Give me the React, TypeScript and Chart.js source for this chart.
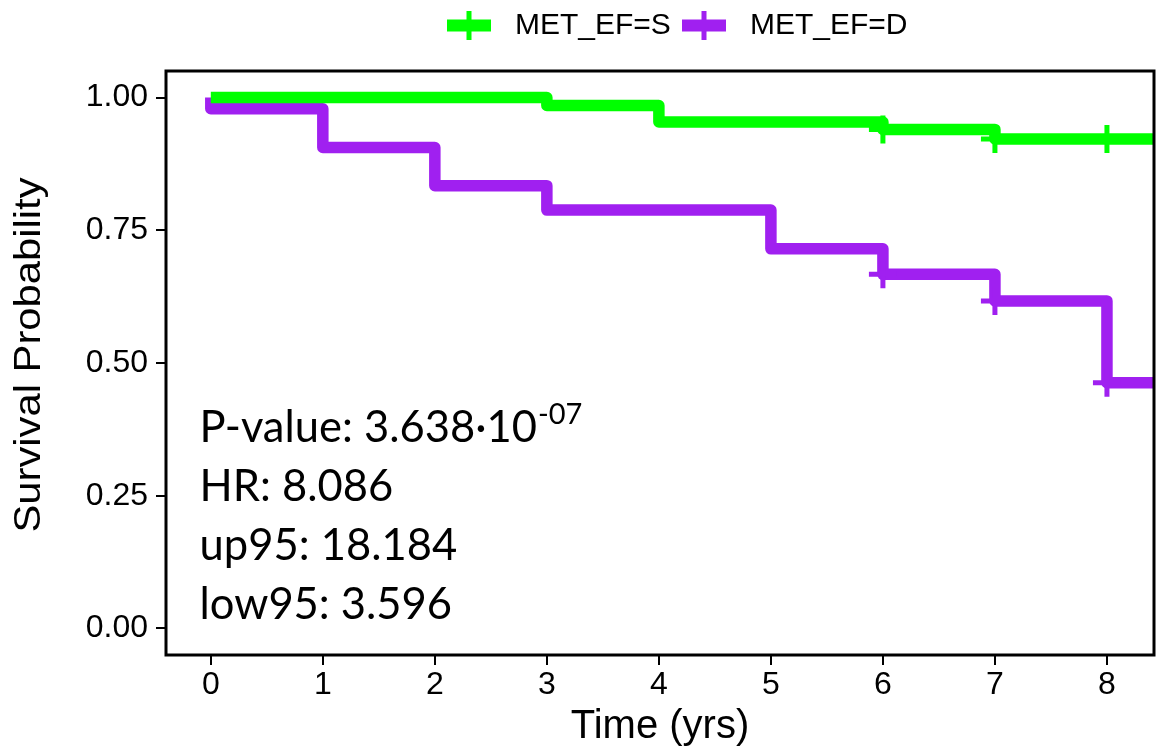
import React, { useEffect, useRef } from "react";
import { Chart, registerables } from "chart.js";

Chart.register(...registerables);

// ---- data ----
const seriesNames = ["MET_EF=S", "MET_EF=D"];
const seriesColors = ["#00FF00", "#A020F0"];

const greenTimes = [0, 3, 4, 6, 7, 8.42];
const greenSurv = [1.0, 0.985, 0.954, 0.94, 0.922, 0.922];

const purpleTimes = [0, 0, 1, 2, 3, 5, 6, 7, 8, 8.42];
const purpleSurv = [1.0, 0.979, 0.906, 0.834, 0.788, 0.715, 0.667, 0.617, 0.463, 0.463];

const greenCensorTimes = [6, 7, 8];
const greenCensorSurv = [0.94, 0.922, 0.922];
const purpleCensorTimes = [6, 7, 8];
const purpleCensorSurv = [0.667, 0.617, 0.463];

const xTicks = [0, 1, 2, 3, 4, 5, 6, 7, 8];
const yTicks = [0, 0.25, 0.5, 0.75, 1];
const yTickLabels = ["0.00", "0.25", "0.50", "0.75", "1.00"];

const xTitle = "Time (yrs)";
const yTitle = "Survival Probability";

const statLines = ["P-value: 3.638·10", "HR: 8.086", "up95: 18.184", "low95: 3.596"];
const pExponent = "-07";

const toPts = (xs: number[], ys: number[]) => xs.map((x, i) => ({ x, y: ys[i] }));

const AXIS_FONT = '"Liberation Sans", Arial, sans-serif';
const STAT_FONT = 'Lato, "Open Sans", sans-serif';

const framePlugin = {
  id: "frame",
  afterDatasetsDraw(chart: any) {
    const { ctx, chartArea: a } = chart;
    ctx.save();
    ctx.strokeStyle = "#000";
    ctx.lineWidth = 3;
    ctx.strokeRect(a.left, a.top, a.right - a.left, a.bottom - a.top);
    ctx.restore();
  },
};

const yTitlePlugin = {
  id: "yTitle",
  afterDraw(chart: any) {
    const { ctx, chartArea: a } = chart;
    ctx.save();
    ctx.translate(40, (a.top + a.bottom) / 2 - 8);
    ctx.rotate(-Math.PI / 2);
    ctx.scale(1.16, 1);
    ctx.fillStyle = "#000";
    ctx.font = `36px ${AXIS_FONT}`;
    ctx.textAlign = "center";
    ctx.textBaseline = "alphabetic";
    ctx.fillText(yTitle, 0, 0);
    ctx.restore();
  },
};

const statsPlugin = {
  id: "stats",
  afterDraw(chart: any) {
    const { ctx } = chart;
    const x = chart.scales.x.getPixelForValue(-0.1);
    ctx.save();
    ctx.fillStyle = "#000";
    ctx.textBaseline = "alphabetic";
    ctx.textAlign = "left";
    const baseTop = 442;
    const step = 59;
    statLines.forEach((line, i) => {
      ctx.font = `43.5px ${STAT_FONT}`;
      const y = baseTop + i * step;
      ctx.fillText(line, x, y);
      if (i === 0) {
        const w = ctx.measureText(line).width;
        ctx.font = `29px ${STAT_FONT}`;
        ctx.fillText(pExponent, x + w + 1, y - 18);
      }
    });
    ctx.restore();
  },
};

const legendPlugin = {
  id: "customLegend",
  afterDraw(chart: any) {
    const { ctx } = chart;
    const items = [
      { sx: 447, tx: 515 },
      { sx: 682, tx: 750 },
    ];
    const cy = 25.5;
    ctx.save();
    items.forEach((it, i) => {
      ctx.fillStyle = seriesColors[i];
      ctx.fillRect(it.sx, cy - 6, 44, 12);
      ctx.fillRect(it.sx + 19.5, cy - 14.5, 5, 29);
      ctx.fillStyle = "#000";
      ctx.font = `30px ${AXIS_FONT}`;
      ctx.textBaseline = "middle";
      ctx.textAlign = "left";
      ctx.fillText(seriesNames[i], it.tx, cy);
    });
    ctx.restore();
  },
};

export default function App() {
  const ref = useRef<HTMLCanvasElement | null>(null);

  useEffect(() => {
    if (!ref.current) return;
    const lineCommon = {
      showLine: true,
      stepped: "before" as const,
      borderWidth: 11.5,
      borderJoinStyle: "round" as const,
      borderCapStyle: "butt" as const,
      pointRadius: 0,
      pointHoverRadius: 0,
      fill: false,
    };
    const censorCommon = {
      showLine: false,
      pointStyle: "cross" as const,
      pointRadius: 14,
      pointHoverRadius: 14,
      pointBorderWidth: 5,
    };
    const chart = new Chart(ref.current, {
      type: "scatter",
      data: {
        datasets: [
          {
            label: seriesNames[0] + " censor",
            data: toPts(greenCensorTimes, greenCensorSurv),
            borderColor: seriesColors[0],
            backgroundColor: seriesColors[0],
            ...censorCommon,
          },
          {
            label: seriesNames[1] + " censor",
            data: toPts(purpleCensorTimes, purpleCensorSurv),
            borderColor: seriesColors[1],
            backgroundColor: seriesColors[1],
            ...censorCommon,
          },
          {
            label: seriesNames[0],
            data: toPts(greenTimes, greenSurv),
            borderColor: seriesColors[0],
            backgroundColor: seriesColors[0],
            ...lineCommon,
          },
          {
            label: seriesNames[1],
            data: toPts(purpleTimes, purpleSurv),
            borderColor: seriesColors[1],
            backgroundColor: seriesColors[1],
            ...lineCommon,
          },
        ],
      },
      options: {
        responsive: false,
        animation: false,
        events: [],
        layout: { autoPadding: false, padding: { top: 71, right: 7, left: 0, bottom: 0 } },
        plugins: {
          legend: { display: false },
          tooltip: { enabled: false },
        },
        scales: {
          x: {
            type: "linear",
            min: -0.4,
            max: 8.42,
            afterBuildTicks: (s: any) => {
              s.ticks = xTicks.map((v) => ({ value: v }));
            },
            afterFit: (s: any) => {
              s.height = 99;
            },
            border: { display: false },
            grid: {
              display: true,
              drawOnChartArea: false,
              drawTicks: true,
              tickLength: 10,
              color: "#000",
              lineWidth: 2,
            },
            ticks: {
              color: "#000",
              font: { family: AXIS_FONT, size: 32 },
              padding: 1,
              maxRotation: 0,
              callback: (v: any) => String(v),
            },
            title: {
              display: true,
              text: xTitle,
              color: "#000",
              font: { family: AXIS_FONT, size: 40 },
              padding: { top: 0, bottom: 3 },
            },
          },
          y: {
            type: "linear",
            min: -0.05,
            max: 1.05,
            afterBuildTicks: (s: any) => {
              s.ticks = yTicks.map((v) => ({ value: v }));
            },
            afterFit: (s: any) => {
              s.width = 166;
            },
            border: { display: false },
            grid: {
              display: true,
              drawOnChartArea: false,
              drawTicks: true,
              tickLength: 10,
              color: "#000",
              lineWidth: 2,
            },
            ticks: {
              color: "#000",
              font: { family: AXIS_FONT, size: 32 },
              padding: 8,
              callback: (v: any) => {
                const idx = yTicks.indexOf(Number(v));
                return idx >= 0 ? yTickLabels[idx] : "";
              },
            },
            title: { display: false },
          },
        },
      },
      plugins: [framePlugin, statsPlugin, legendPlugin, yTitlePlugin],
    });
    return () => chart.destroy();
  }, []);

  return (
    <div style={{ position: "fixed", left: 0, top: 0, width: 1161, height: 754, background: "#fff" }}>
      <canvas ref={ref} width={1161} height={754} />
    </div>
  );
}
